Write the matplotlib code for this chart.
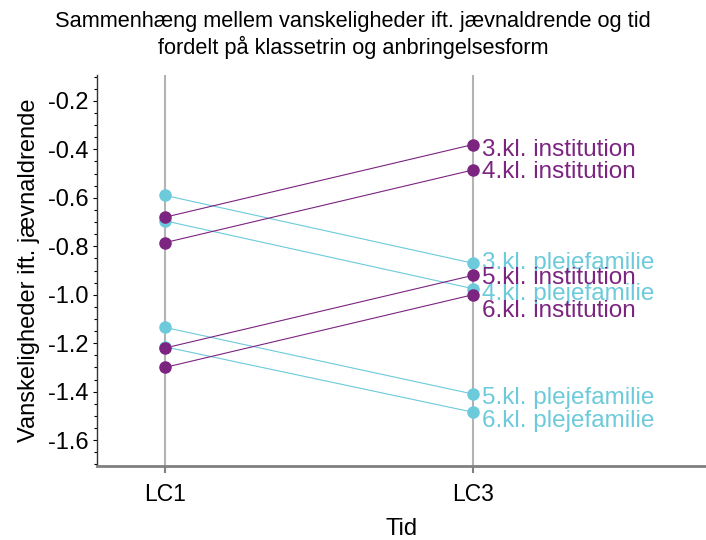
import matplotlib
matplotlib.use('Agg')
import matplotlib.pyplot as plt
from matplotlib.ticker import MultipleLocator

plt.rcParams['font.family'] = ['Liberation Sans', 'DejaVu Sans']

# Data
times = ['LC1', 'LC3']
groups = ['3.kl. institution', '4.kl. institution', '5.kl. institution', '6.kl. institution',
          '3.kl. plejefamilie', '4.kl. plejefamilie', '5.kl. plejefamilie', '6.kl. plejefamilie']
lc1_values = [-0.68, -0.785, -1.22, -1.30, -0.59, -0.695, -1.135, -1.215]
lc3_values = [-0.38, -0.485, -0.92, -1.00, -0.87, -0.975, -1.41, -1.485]
placement = ['institution'] * 4 + ['plejefamilie'] * 4

colors = {'institution': '#7b2480', 'plejefamilie': '#6ccadb'}
# label nudges (pixels below the point, for baseline) - like a repel layout
label_nudge = {'3.kl. institution': 11, '4.kl. institution': 8,
               '5.kl. institution': 9, '6.kl. institution': 22.5,
               '3.kl. plejefamilie': 6, '4.kl. plejefamilie': 11.5,
               '5.kl. plejefamilie': 10, '6.kl. plejefamilie': 15}

fig = plt.figure(figsize=(7.06, 5.4), dpi=100)
ax = fig.add_axes([97/706, 1 - 466/540, 1 - 97/706, (466 - 75)/540])

xpos = [1, 2]
for x in xpos:
    ax.axvline(x, color='#b3b3b3', lw=1.5, zorder=1)

# plejefamilie drawn first, institution on top
order = [4, 5, 6, 7, 0, 1, 2, 3]
for i in order:
    c = colors[placement[i]]
    ax.plot(xpos, [lc1_values[i], lc3_values[i]], color=c, lw=0.8, zorder=2)
    ax.plot(xpos, [lc1_values[i], lc3_values[i]], 'o', color=c, ms=8, zorder=3)

for i in order:
    c = colors[placement[i]]
    ax.annotate(groups[i], xy=(2, lc3_values[i]), xytext=(9, -label_nudge[groups[i]]),
                textcoords='offset pixels', ha='left', va='baseline',
                color=c, fontsize=17.5, zorder=4)

ax.set_xlim(1 - 68/308, 2 + 233/308)
ax.set_ylim(-1.707, -0.093)
ax.set_xticks(xpos)
ax.set_xticklabels(times)
ax.yaxis.set_major_locator(MultipleLocator(0.2))
ax.yaxis.set_minor_locator(MultipleLocator(0.05))
ax.yaxis.set_major_formatter(plt.FuncFormatter(lambda v, p: f'{v:.1f}'))

ax.tick_params(axis='x', colors='#808080', length=5, width=1.5, labelsize=16.5,
               labelcolor='black', pad=7)
ax.tick_params(axis='y', which='major', length=3, width=0.8, labelsize=17, pad=3)
ax.tick_params(axis='y', which='minor', length=2, width=0.8)

for s in ['top', 'right']:
    ax.spines[s].set_visible(False)
ax.spines['bottom'].set_color('#808080')
ax.spines['bottom'].set_linewidth(2)
ax.spines['left'].set_color('#333333')
ax.spines['left'].set_linewidth(1)

ax.set_xlabel('Tid', fontsize=17, labelpad=9)
ax.set_ylabel('Vanskeligheder ift. jævnaldrende', fontsize=17, labelpad=6)
fig.suptitle('Sammenhæng mellem vanskeligheder ift. jævnaldrende og tid\n'
             'fordelt på klassetrin og anbringelsesform',
             fontsize=15.7, y=0.98, va='top', linespacing=1.25)

fig.savefig('out.png', dpi=100)
